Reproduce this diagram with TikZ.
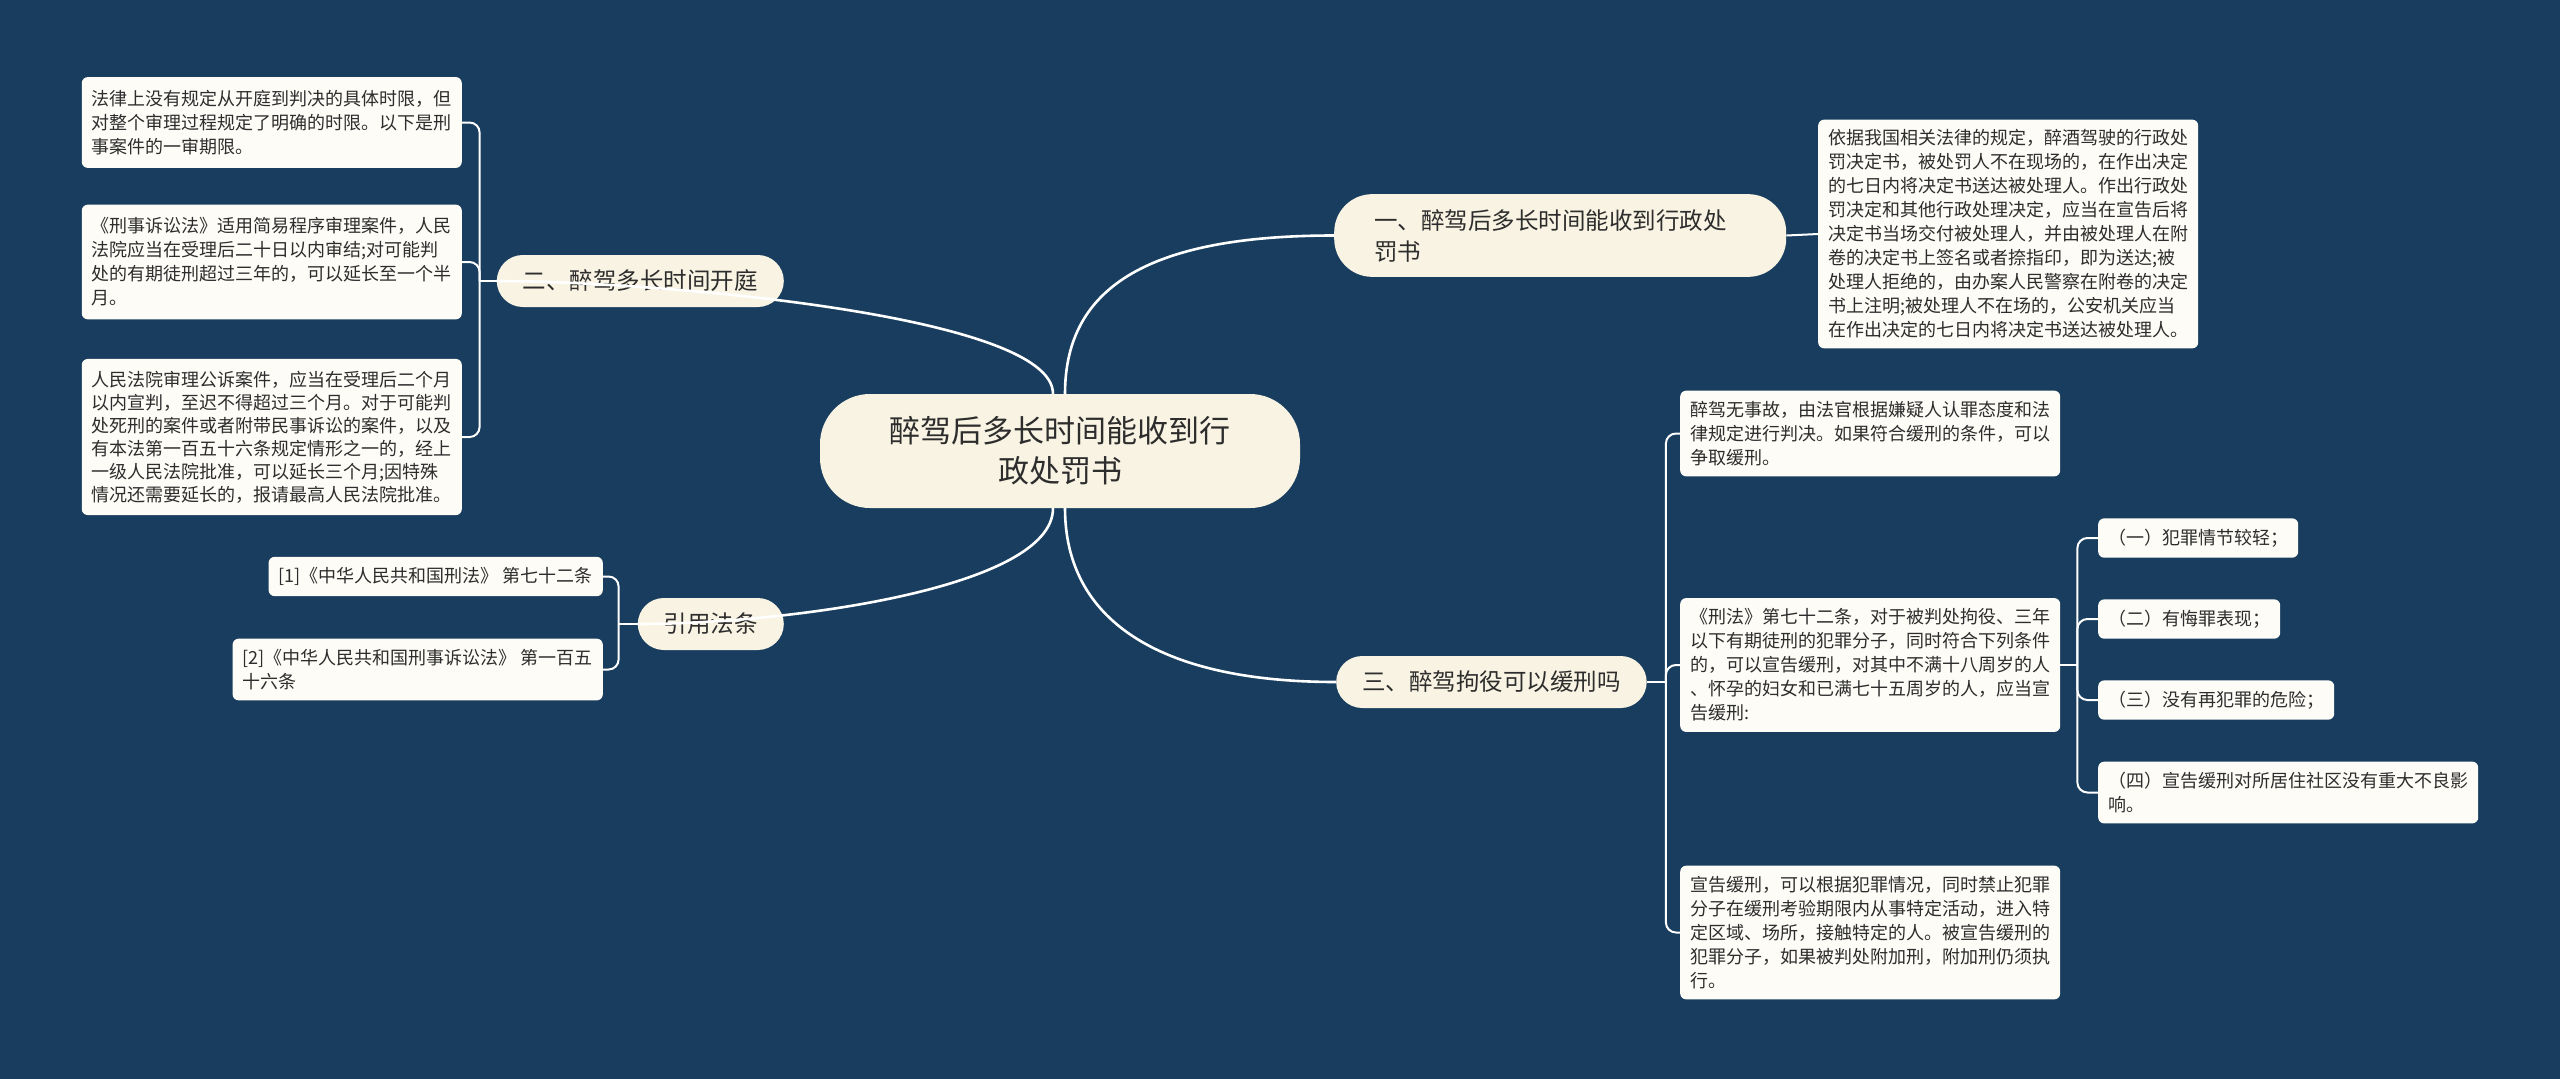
\documentclass[tikz,border=0pt]{standalone}
\usepackage{fontspec}
\newfontfamily\cjk{Noto Sans CJK SC}
\usetikzlibrary{calc}
\definecolor{bgblue}{RGB}{24,61,94}
\definecolor{cream}{RGB}{248,243,226}
\definecolor{paper}{RGB}{253,252,247}
\definecolor{ink}{RGB}{45,45,45}

\begin{document}
\begin{tikzpicture}[x=1pt,y=-1pt,
    root/.style={fill=cream, rounded corners=50pt, text=ink, align=center,
      minimum width=480pt, minimum height=114pt, font=\fontsize{31}{40}\selectfont\cjk},
    topic/.style={fill=cream, rounded corners=26pt, text=ink, align=left, inner xsep=26pt,
      minimum height=52pt, font=\fontsize{23.5}{31}\selectfont\cjk},
    leaf/.style={fill=paper, rounded corners=6pt, text=ink, align=left, inner xsep=10pt,
      inner ysep=10.5pt, font=\fontsize{18}{24}\selectfont\cjk},
    trunk/.style={draw=white, line width=2.6pt},
    twig/.style={draw=white, line width=2pt, rounded corners=10pt}]

    % 背景
    \useasboundingbox (0,0) rectangle (2560,1079);
    \fill[bgblue] (0,0) rectangle (2560,1079);

    % 中心主题
    \node[root] (root) at (1060,451) {醉驾后多长时间能收到行\\政处罚书};

    % 分支
    \node[topic, anchor=west, text width=372pt, inner xsep=40pt, rounded corners=38pt,
      inner ysep=15pt] (b1) at (1334,235.5) {一、醉驾后多长时间能收到行政处\\罚书};
    \node[topic, anchor=east] (b2) at (784,281) {二、醉驾多长时间开庭};
    \node[topic, anchor=east] (b3) at (784,624) {引用法条};
    \node[topic, anchor=west] (b4) at (1336,682) {三、醉驾拘役可以缓刑吗};

    % 一
    \node[leaf, anchor=west, inner ysep=10pt] (r1) at (1818,234) {依据我国相关法律的规定，醉酒驾驶的行政处\\
罚决定书，被处罚人不在现场的，在作出决定\\
的七日内将决定书送达被处理人。作出行政处\\
罚决定和其他行政处理决定，应当在宣告后将\\
决定书当场交付被处理人，并由被处理人在附\\
卷的决定书上签名或者捺指印，即为送达;被\\
处理人拒绝的，由办案人民警察在附卷的决定\\
书上注明;被处理人不在场的，公安机关应当\\
在作出决定的七日内将决定书送达被处理人。};

    % 二
    \node[leaf, anchor=east, inner ysep=13pt] (l1) at (462,122.5) {法律上没有规定从开庭到判决的具体时限，但\\
对整个审理过程规定了明确的时限。以下是刑\\
事案件的一审期限。};
    \node[leaf, anchor=east, inner ysep=13pt] (l2) at (462,262) {《刑事诉讼法》适用简易程序审理案件，人民\\
法院应当在受理后二十日以内审结;对可能判\\
处的有期徒刑超过三年的，可以延长至一个半\\
月。};
    \node[leaf, anchor=east, inner ysep=12pt, font=\fontsize{18}{23}\selectfont\cjk] (l3) at (462,437) {人民法院审理公诉案件，应当在受理后二个月\\
以内宣判，至迟不得超过三个月。对于可能判\\
处死刑的案件或者附带民事诉讼的案件，以及\\
有本法第一百五十六条规定情形之一的，经上\\
一级人民法院批准，可以延长三个月;因特殊\\
情况还需要延长的，报请最高人民法院批准。};

    % 引用法条
    \node[leaf, anchor=east] (c1) at (603,576.5) {[1]《中华人民共和国刑法》 第七十二条};
    \node[leaf, anchor=east] (c2) at (603,669.5) {[2]《中华人民共和国刑事诉讼法》 第一百五\\
十六条};

    % 三
    \node[leaf, anchor=west] (t1) at (1680,433.5) {醉驾无事故，由法官根据嫌疑人认罪态度和法\\
律规定进行判决。如果符合缓刑的条件，可以\\
争取缓刑。};
    \node[leaf, anchor=west] (t2) at (1680,665) {《刑法》第七十二条，对于被判处拘役、三年\\
以下有期徒刑的犯罪分子，同时符合下列条件\\
的，可以宣告缓刑，对其中不满十八周岁的人\\
、怀孕的妇女和已满七十五周岁的人，应当宣\\
告缓刑:};
    \node[leaf, anchor=west] (t3) at (1680,932.5) {宣告缓刑，可以根据犯罪情况，同时禁止犯罪\\
分子在缓刑考验期限内从事特定活动，进入特\\
定区域、场所，接触特定的人。被宣告缓刑的\\
犯罪分子，如果被判处附加刑，附加刑仍须执\\
行。};

    % 缓刑条件
    \node[leaf, anchor=west] (s1) at (2098,538) {（一）犯罪情节较轻；};
    \node[leaf, anchor=west] (s2) at (2098,619) {（二）有悔罪表现；};
    \node[leaf, anchor=west] (s3) at (2098,700) {（三）没有再犯罪的危险；};
    \node[leaf, anchor=west] (s4) at (2098,792.5) {（四）宣告缓刑对所居住社区没有重大不良影\\
响。};

    % 中心连线
    \coordinate (rl) at ($(root.north)+(-7,0)$);
    \coordinate (rr) at ($(root.north)+(5,0)$);
    \coordinate (bl) at ($(root.south)+(-7,0)$);
    \coordinate (br) at ($(root.south)+(5,0)$);
    \draw[trunk] (rr) .. controls +(0,-110) and +(-180,0) .. (b1.west);
    \draw[trunk] (br) .. controls +(0,110) and +(-180,0) .. (b4.west);
    \draw[trunk] (rl) .. controls +(0,-80) and +(150,0) .. (b2.west);
    \draw[trunk] (bl) .. controls +(0,80) and +(150,0) .. (b3.west);

    % 分支连线
    \draw[twig] (b1.east) -- (r1.west);

    \coordinate (j2) at ($(b2.west)+(-17,0)$);
    \draw[twig] (b2.west) -- (j2);
    \foreach \n in {l1,l2,l3} \draw[twig] (j2) |- (\n.east);

    \coordinate (j3) at ($(b3.west)+(-19,0)$);
    \draw[twig] (b3.west) -- (j3);
    \foreach \n in {c1,c2} \draw[twig] (j3) |- (\n.east);

    \coordinate (j4) at ($(b4.east)+(19,0)$);
    \draw[twig] (b4.east) -- (j4);
    \foreach \n in {t1,t2,t3} \draw[twig] (j4) |- (\n.west);

    \coordinate (j5) at ($(t2.east)+(17,0)$);
    \draw[twig] (t2.east) -- (j5);
    \foreach \n in {s1,s2,s3,s4} \draw[twig] (j5) |- (\n.west);
\end{tikzpicture}
\end{document}
